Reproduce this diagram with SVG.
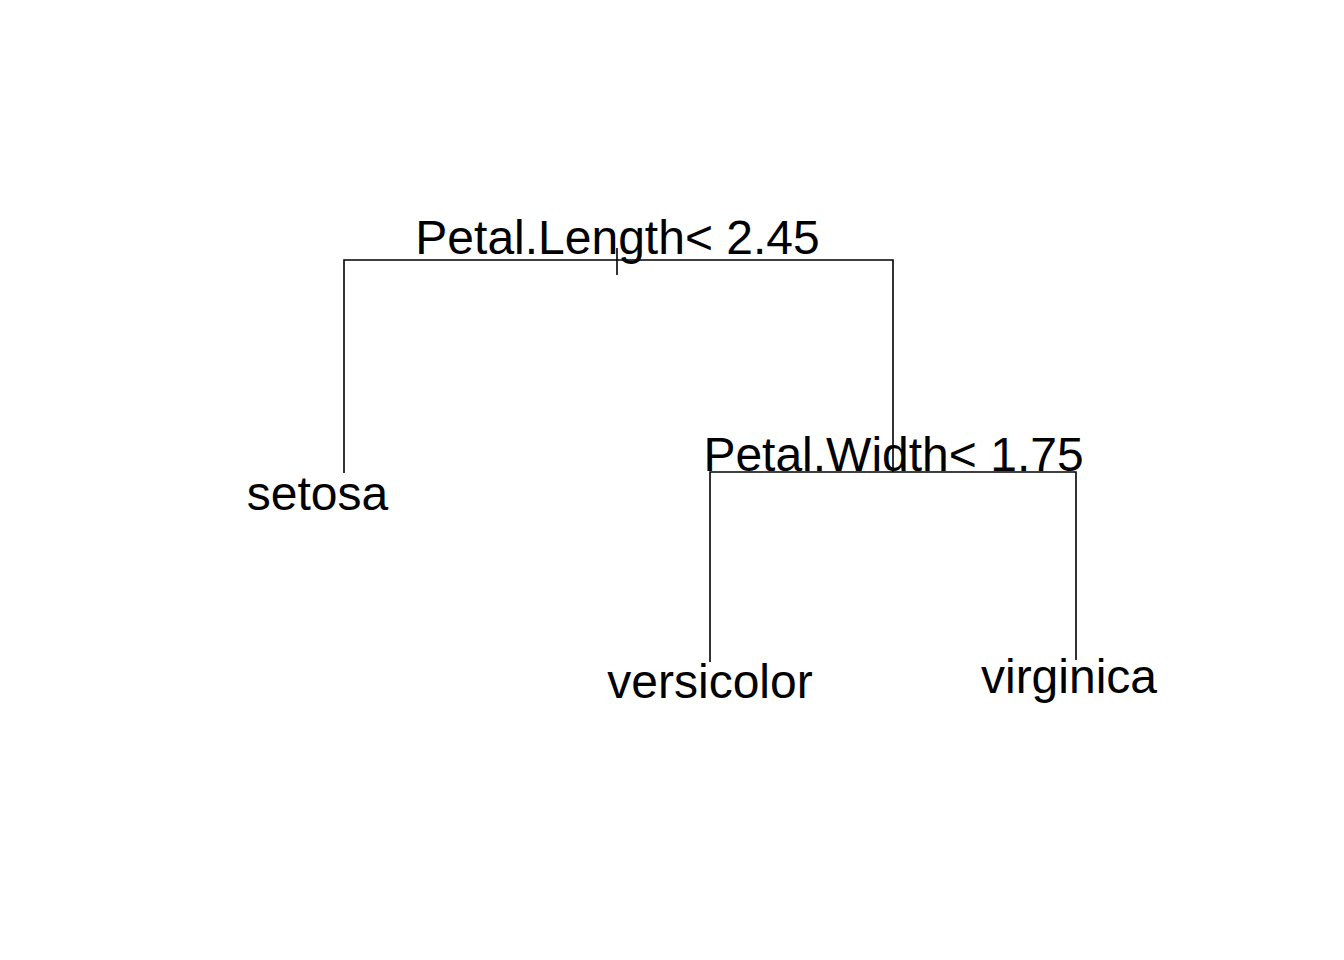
<svg xmlns="http://www.w3.org/2000/svg" width="1344" height="960" viewBox="0 0 1344 960">
<style>
.e{stroke:#000;stroke-width:1.6;fill:none;stroke-linecap:butt}
.t{font-family:"Liberation Sans",Arial,sans-serif;font-size:48px;fill:#000;text-anchor:middle}
</style>
<rect width="1344" height="960" fill="#fff"/>
<g id="connectors">
<path class="e" d="M344,473V260H893V472"/>
<path class="e" d="M617,248V275"/>
<path class="e" d="M710,662V472H1076V660"/>
</g>
<g id="node-root"><text class="t" x="617.5" y="254">Petal.Length&lt; 2.45</text></g>
<g id="node-width"><text class="t" x="893.5" y="471">Petal.Width&lt; 1.75</text></g>
<g id="leaf-setosa"><text class="t" x="317.5" y="510">setosa</text></g>
<g id="leaf-versicolor"><text class="t" x="710" y="698">versicolor</text></g>
<g id="leaf-virginica"><text class="t" x="1069" y="693">virginica</text></g>
</svg>
